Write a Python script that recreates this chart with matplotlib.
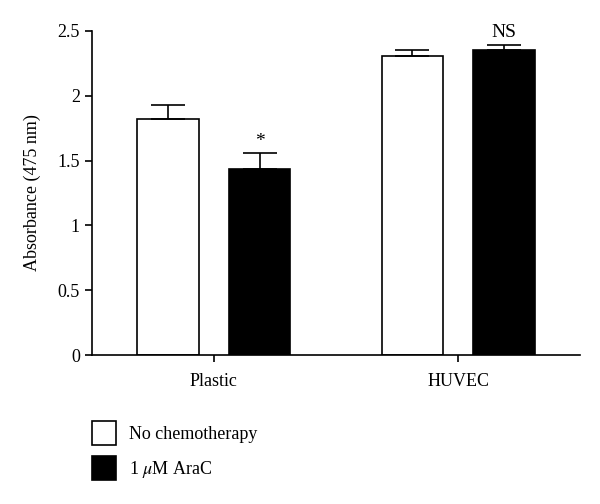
import matplotlib

matplotlib.use("Agg")
import matplotlib.pyplot as plt
from matplotlib.patches import Patch
import numpy as np

plt.rcParams["font.family"] = ["Liberation Serif", "DejaVu Serif"]
plt.rcParams["mathtext.fontset"] = "stix"

# 数据
groups = ["Plastic", "HUVEC"]
series_names = ["No chemotherapy", "1 $\\mu$M AraC"]
no_chemo = [1.82, 2.31]
no_chemo_err = [0.11, 0.04]
arac = [1.435, 2.35]
arac_err = [0.12, 0.04]
marks = ["*", "NS"]

fig = plt.figure(figsize=(6, 5.04), dpi=100)
ax = fig.add_axes([0.153, 0.2956, 0.814, 0.643])

x = np.arange(len(groups))
width = 0.25
offset = 0.188
lw = 1.2

ax.bar(x - offset, no_chemo, width, color="white", edgecolor="black", linewidth=lw,
       yerr=[np.zeros(len(x)), no_chemo_err], capsize=12,
       error_kw=dict(elinewidth=lw, capthick=lw, ecolor="black"), zorder=2)
ax.bar(x + offset, arac, width, color="black", edgecolor="black", linewidth=lw,
       yerr=[np.zeros(len(x)), arac_err], capsize=12,
       error_kw=dict(elinewidth=lw, capthick=lw, ecolor="black"), zorder=2)

# 显著性标记
for i in range(len(groups)):
    ax.text(x[i] + offset, arac[i] + arac_err[i] + 0.03, marks[i],
            ha="center", va="bottom", fontsize=14)

ax.set_xlim(-0.5, 1.5)
ax.set_ylim(0, 2.5)
ax.set_xticks(x)
ax.set_xticklabels(groups, fontsize=13)
ax.set_yticks([0, 0.5, 1, 1.5, 2, 2.5])
ax.set_yticklabels(["0", "0.5", "1", "1.5", "2", "2.5"], fontsize=13)
ax.set_ylabel("Absorbance (475 nm)", fontsize=13, labelpad=12)

ax.spines["top"].set_visible(False)
ax.spines["right"].set_visible(False)
ax.spines["left"].set_linewidth(lw)
ax.spines["bottom"].set_linewidth(lw)
ax.tick_params(axis="both", direction="out", width=lw, length=5)
ax.tick_params(axis="x", pad=8)

handles = [Patch(facecolor="white", edgecolor="black", linewidth=lw),
           Patch(facecolor="black", edgecolor="black", linewidth=lw)]
fig.legend(handles, series_names, loc="upper left", bbox_to_anchor=(0.153, 0.165),
           frameon=False, fontsize=13, handlelength=1.36, handleheight=1.67,
           handletextpad=0.72, labelspacing=0.62, borderaxespad=0, borderpad=0)

plt.savefig("out.png", dpi=100)
plt.close()
